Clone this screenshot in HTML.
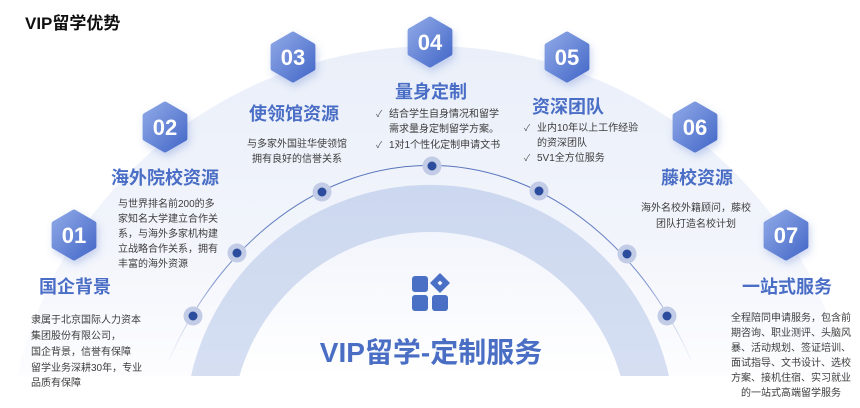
<!DOCTYPE html>
<html><head><meta charset="utf-8">
<style>
html,body{margin:0;padding:0;background:#fff;width:860px;height:408px;overflow:hidden;}
svg{display:block;}
.t{font-family:"Liberation Sans","Noto Sans CJK SC",sans-serif;}
</style></head>
<body>
<svg width="860" height="408" viewBox="0 0 860 408" xmlns="http://www.w3.org/2000/svg" class="t">
<defs>
  <linearGradient id="pale" gradientUnits="userSpaceOnUse" x1="0" y1="46" x2="0" y2="378">
    <stop offset="0" stop-color="#eaeff9"/>
    <stop offset="0.55" stop-color="#f1f4fb"/>
    <stop offset="1" stop-color="#fdfdff"/>
  </linearGradient>
  <linearGradient id="inner" gradientUnits="userSpaceOnUse" x1="0" y1="232" x2="0" y2="378">
    <stop offset="0" stop-color="#f2f5fc"/>
    <stop offset="1" stop-color="#ffffff"/>
  </linearGradient>
  <linearGradient id="band" gradientUnits="userSpaceOnUse" x1="0" y1="185" x2="0" y2="376">
    <stop offset="0" stop-color="#ccd8ef"/>
    <stop offset="1" stop-color="#d6dff2"/>
  </linearGradient>
  <linearGradient id="line" gradientUnits="userSpaceOnUse" x1="0" y1="166" x2="0" y2="362">
    <stop offset="0" stop-color="#5572ba"/>
    <stop offset="0.6" stop-color="#7d93cc"/>
    <stop offset="1" stop-color="#d3dbef" stop-opacity="0.2"/>
  </linearGradient>
  <linearGradient id="hexg" x1="0" y1="0" x2="1" y2="1">
    <stop offset="0" stop-color="#8ea8e6"/>
    <stop offset="1" stop-color="#4669c9"/>
  </linearGradient>
  <filter id="sh" x="-30%" y="-30%" width="160%" height="160%">
    <feDropShadow dx="2" dy="4" stdDeviation="4" flood-color="#4a6ccb" flood-opacity="0.28"/>
  </filter>
</defs>

<path d="M17,376 A426,426 0 0 1 847,376 Z" fill="url(#pale)"/>
<path d="M191,376 A245,245 0 0 1 669,376 Z" fill="url(#band)"/>
<path d="M239.5,376 A198,198 0 0 1 620.5,376 Z" fill="url(#inner)"/>
<path d="M169,360 A300,384 0 0 1 691,360" fill="none" stroke="url(#line)" stroke-width="1"/>

<g>
  <circle cx="193" cy="316" r="9.5" fill="#c2cce6"/><circle cx="193" cy="316" r="4.5" fill="#2c4d9e"/>
  <circle cx="237" cy="253" r="9.5" fill="#c2cce6"/><circle cx="237" cy="253" r="4.5" fill="#2c4d9e"/>
  <circle cx="322" cy="192" r="9.5" fill="#c2cce6"/><circle cx="322" cy="192" r="4.5" fill="#2c4d9e"/>
  <circle cx="432" cy="166" r="9.5" fill="#c2cce6"/><circle cx="432" cy="166" r="4.5" fill="#2c4d9e"/>
  <circle cx="539" cy="191" r="9.5" fill="#c2cce6"/><circle cx="539" cy="191" r="4.5" fill="#2c4d9e"/>
  <circle cx="627" cy="254" r="9.5" fill="#c2cce6"/><circle cx="627" cy="254" r="4.5" fill="#2c4d9e"/>
  <circle cx="667" cy="316" r="9.5" fill="#c2cce6"/><circle cx="667" cy="316" r="4.5" fill="#2c4d9e"/>
</g>

<g filter="url(#sh)">
  <polygon transform="translate(74,235)" points="0,-23 19.9,-11.5 19.9,11.5 0,23 -19.9,11.5 -19.9,-11.5" fill="url(#hexg)" stroke="url(#hexg)" stroke-width="5" stroke-linejoin="round"/>
  <polygon transform="translate(165,127)" points="0,-23 19.9,-11.5 19.9,11.5 0,23 -19.9,11.5 -19.9,-11.5" fill="url(#hexg)" stroke="url(#hexg)" stroke-width="5" stroke-linejoin="round"/>
  <polygon transform="translate(293,57)" points="0,-23 19.9,-11.5 19.9,11.5 0,23 -19.9,11.5 -19.9,-11.5" fill="url(#hexg)" stroke="url(#hexg)" stroke-width="5" stroke-linejoin="round"/>
  <polygon transform="translate(430,42)" points="0,-23 19.9,-11.5 19.9,11.5 0,23 -19.9,11.5 -19.9,-11.5" fill="url(#hexg)" stroke="url(#hexg)" stroke-width="5" stroke-linejoin="round"/>
  <polygon transform="translate(567,57)" points="0,-23 19.9,-11.5 19.9,11.5 0,23 -19.9,11.5 -19.9,-11.5" fill="url(#hexg)" stroke="url(#hexg)" stroke-width="5" stroke-linejoin="round"/>
  <polygon transform="translate(695,127)" points="0,-23 19.9,-11.5 19.9,11.5 0,23 -19.9,11.5 -19.9,-11.5" fill="url(#hexg)" stroke="url(#hexg)" stroke-width="5" stroke-linejoin="round"/>
  <polygon transform="translate(786,235)" points="0,-23 19.9,-11.5 19.9,11.5 0,23 -19.9,11.5 -19.9,-11.5" fill="url(#hexg)" stroke="url(#hexg)" stroke-width="5" stroke-linejoin="round"/>
</g>
<g fill="#ffffff" font-size="22" font-weight="bold" text-anchor="middle">
  <text x="74" y="243">01</text>
  <text x="165" y="135">02</text>
  <text x="293" y="65">03</text>
  <text x="430" y="50">04</text>
  <text x="567" y="65">05</text>
  <text x="695" y="135">06</text>
  <text x="786" y="243">07</text>
</g>

<text x="25" y="29" font-size="17" font-weight="bold" fill="#111">VIP留学优势</text>

<g fill="#4a6ec6" font-size="18" font-weight="bold" text-anchor="middle">
  <text x="75" y="293">国企背景</text>
  <text x="165" y="184">海外院校资源</text>
  <text x="294" y="120">使领馆资源</text>
  <text x="431" y="98">量身定制</text>
  <text x="568" y="113">资深团队</text>
  <text x="697" y="184">藤校资源</text>
  <text x="787" y="293">一站式服务</text>
</g>

<g fill="#3d3d3d" font-size="10">
  <text x="31" y="323">隶属于北京国际人力资本</text>
  <text x="31" y="339">集团股份有限公司，</text>
  <text x="31" y="355">国企背景，信誉有保障</text>
  <text x="31" y="371">留学业务深耕30年，专业</text>
  <text x="31" y="386">品质有保障</text>

  <text x="118" y="207">与世界排名前200的多</text>
  <text x="118" y="222">家知名大学建立合作关</text>
  <text x="118" y="237">系，与海外多家机构建</text>
  <text x="118" y="252">立战略合作关系，拥有</text>
  <text x="118" y="267">丰富的海外资源</text>

  <text x="297" y="147" text-anchor="middle">与多家外国驻华使领馆</text>
  <text x="297" y="162" text-anchor="middle">拥有良好的信誉关系</text>

  <text x="376" y="117" font-size="9" fill="#555">✓</text>
  <text x="389" y="117">结合学生自身情况和留学</text>
  <text x="389" y="132">需求量身定制留学方案。</text>
  <text x="376" y="148" font-size="9" fill="#555">✓</text>
  <text x="389" y="148">1对1个性化定制申请文书</text>

  <text x="524" y="131" font-size="9" fill="#555">✓</text>
  <text x="537" y="131">业内10年以上工作经验</text>
  <text x="537" y="146">的资深团队</text>
  <text x="524" y="161" font-size="9" fill="#555">✓</text>
  <text x="537" y="161">5V1全方位服务</text>

  <text x="696" y="211" text-anchor="middle">海外名校外籍顾问，藤校</text>
  <text x="696" y="227" text-anchor="middle">团队打造名校计划</text>

  <text x="791" y="321" text-anchor="middle">全程陪同申请服务，包含前</text>
  <text x="791" y="336" text-anchor="middle">期咨询、职业测评、头脑风</text>
  <text x="791" y="351" text-anchor="middle">暴、活动规划、签证培训、</text>
  <text x="791" y="366" text-anchor="middle">面试指导、文书设计、选校</text>
  <text x="791" y="381" text-anchor="middle">方案、接机住宿、实习就业</text>
  <text x="791" y="396" text-anchor="middle">的一站式高端留学服务</text>
</g>

<g fill="#4a70c6">
  <rect x="412" y="276" width="16" height="16" rx="3"/>
  <rect x="412" y="295" width="16" height="16" rx="3"/>
  <rect x="432" y="295" width="16" height="16" rx="3"/>
  <path d="M440,274 L449,283 L440,292 L431,283 Z M440,279.5 L436.5,283 L440,286.5 L443.5,283 Z" fill-rule="evenodd" stroke="#4a70c6" stroke-width="1.5" stroke-linejoin="round"/>
</g>

<text x="431" y="362" font-size="28" font-weight="bold" fill="#4a6ec4" text-anchor="middle">VIP留学-定制服务</text>
</svg>
</body></html>
